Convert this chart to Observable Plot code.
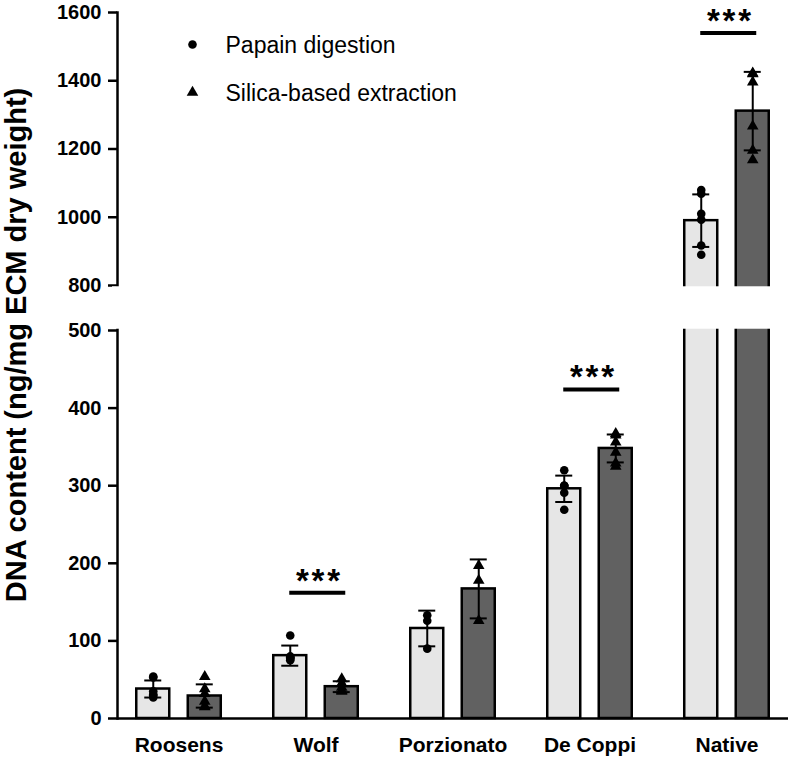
<!DOCTYPE html>
<html><head><meta charset="utf-8">
<script src="https://cdn.jsdelivr.net/npm/d3@7"></script>
<script src="https://cdn.jsdelivr.net/npm/@observablehq/plot@0.6"></script>
<style>
body{margin:0;background:#fff;}
</style></head><body><div id="chart"></div>
<script>
const categories = ["Roosens", "Wolf", "Porzionato", "De Coppi", "Native"];
const seriesNames = ["Papain digestion", "Silica-based extraction"];
const papainMean = [38, 81, 116, 296, 990];
const papainSD = [11, 13, 23, 17, 77];
const silicaMean = [29, 41, 167, 348, 1311];
const silicaSD = [15, 7, 38, 18, 115];
const papainPoints = [
  [53, 54, 35, 31, 30, 27],
  [107, 80, 79, 78, 77, 75],
  [133, 126, 90],
  [320, 300, 300, 300, 291, 269],
  [1080, 1069, 1010, 993, 917, 890]
];
const silicaPoints = [
  [54, 38, 32, 22, 16, 15],
  [51, 45, 45, 40, 36, 35],
  [197, 178, 126],
  [367, 365, 356, 343, 329, 325],
  [1422, 1420, 1396, 1267, 1196, 1168]
];
const sigCategories = ["Wolf", "De Coppi", "Native"];
const sigLevels = [162, 424, 1540];
const sigLabels = ["*\u200A*\u200A*", "*\u200A*\u200A*", "*\u200A*\u200A*"];
const yTicks = [0, 100, 200, 300, 400, 500, 800, 1000, 1200, 1400, 1600];
const yBreak = [500, 800];
const yMax = 1600;
const yLabel = "DNA content (ng/mg ECM dry weight)";

// tables built from the arrays
const papainBars = categories.map((c, i) => ({cat: c, mean: papainMean[i], sd: papainSD[i]}));
const silicaBars = categories.map((c, i) => ({cat: c, mean: silicaMean[i], sd: silicaSD[i]}));
const papainDots = categories.flatMap((c, i) => papainPoints[i].map(v => ({cat: c, v})));
const silicaDots = categories.flatMap((c, i) => silicaPoints[i].map(v => ({cat: c, v})));
const sig = sigCategories.map((c, i) => ({cat: c, y: sigLevels[i], label: sigLabels[i]}));

const LIGHT = "#e6e6e6", DARK = "#616161";
const HALF = 51.5;      // inset that leaves one 33px bar per half of the group band
const OFF = 25.75;      // offset from group centre to bar centre
const font = "'Liberation Sans', Arial, Helvetica, sans-serif";

const chart = Plot.plot({
  width: 792,
  height: 761,
  marginLeft: 117,
  marginRight: 4,
  marginTop: 12,
  marginBottom: 43,
  style: {fontFamily: font, color: "black", background: "white", overflow: "visible"},
  x: {type: "band", domain: categories, paddingInner: 0.3832, paddingOuter: 0.1406, round: false},
  y: {type: "linear", domain: [0, yBreak[0], yBreak[1], yMax], range: [718, 330, 285, 12]},
  marks: [
    Plot.frame({anchor: "left", strokeWidth: 2.5}),
    Plot.axisY({ticks: yTicks, tickFormat: d => String(d), tickSize: 9, tickPadding: 7,
      fontSize: 20, fontWeight: "bold", strokeWidth: 2.5, label: null}),
    Plot.axisX({tickSize: 0, tickPadding: 19, fontSize: 21, fontWeight: "bold", label: null}),
    Plot.barY(papainBars, {x: "cat", y1: 0, y2: "mean", fill: LIGHT, stroke: "black", strokeWidth: 2.5, insetRight: HALF}),
    Plot.barY(silicaBars, {x: "cat", y1: 0, y2: "mean", fill: DARK, stroke: "black", strokeWidth: 2.5, insetLeft: HALF}),
    Plot.ruleY([0], {strokeWidth: 2.5}),
    Plot.ruleX(papainBars, {x: "cat", y1: d => d.mean - d.sd, y2: d => d.mean + d.sd, dx: -OFF, strokeWidth: 2}),
    Plot.ruleX(silicaBars, {x: "cat", y1: d => d.mean - d.sd, y2: d => d.mean + d.sd, dx: OFF, strokeWidth: 2}),
    Plot.tickY(papainBars, {x: "cat", y: d => d.mean + d.sd, insetLeft: 8, insetRight: 59.5, strokeWidth: 2}),
    Plot.tickY(papainBars, {x: "cat", y: d => d.mean - d.sd, insetLeft: 8, insetRight: 59.5, strokeWidth: 2}),
    Plot.tickY(silicaBars, {x: "cat", y: d => d.mean + d.sd, insetLeft: 59.5, insetRight: 8, strokeWidth: 2}),
    Plot.tickY(silicaBars, {x: "cat", y: d => d.mean - d.sd, insetLeft: 59.5, insetRight: 8, strokeWidth: 2}),
    Plot.dot(papainDots, {x: "cat", y: "v", dx: -OFF, r: 4.3, fill: "black", symbol: "circle"}),
    Plot.dot(silicaDots, {x: "cat", y: "v", dx: OFF, r: 4.3, fill: "black", symbol: "triangle"}),
    // axis break: blank band between the two segments
    Plot.rect([0], {y1: yBreak[0] + 8.5, y2: yBreak[1] - 8.5, fill: "white", insetLeft: -5, insetRight: -5}),
    // significance
    Plot.tickY(sig, {x: "cat", y: "y", insetLeft: 16, insetRight: 12.5, strokeWidth: 4}),
    Plot.text(sig, {x: "cat", y: "y", text: "label", dx: 2, dy: -1, lineAnchor: "bottom",
      fontSize: 33, fontWeight: "bold"}),
    // legend
    Plot.dot([seriesNames[0]], {frameAnchor: "top-left", dx: 75, dy: 32, r: 4.3, fill: "black", symbol: "circle"}),
    Plot.dot([seriesNames[1]], {frameAnchor: "top-left", dx: 75, dy: 80, r: 4.3, fill: "black", symbol: "triangle"}),
    Plot.text([seriesNames[0]], {text: d => d, frameAnchor: "top-left", dx: 108, dy: 33, textAnchor: "start", lineAnchor: "middle", fontSize: 23}),
    Plot.text([seriesNames[1]], {text: d => d, frameAnchor: "top-left", dx: 108, dy: 81, textAnchor: "start", lineAnchor: "middle", fontSize: 23}),
    // y label
    Plot.text([yLabel], {text: d => d, frameAnchor: "left", rotate: -90, dx: -101, dy: -20.5,
      textAnchor: "middle", lineAnchor: "middle", fontSize: 29, fontWeight: "bold"})
  ]
});
document.getElementById("chart").appendChild(chart);
</script></body></html>
